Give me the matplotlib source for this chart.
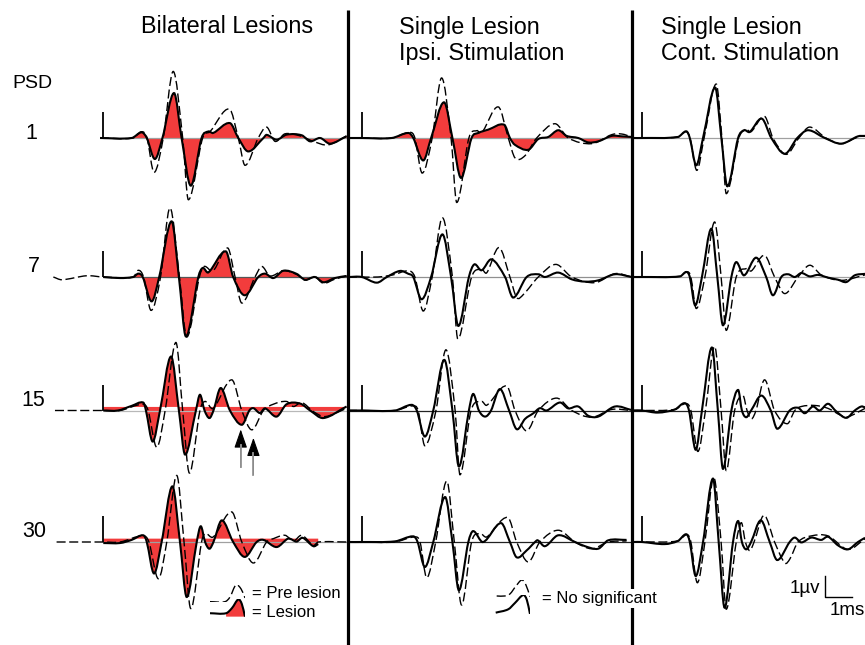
import matplotlib
matplotlib.use("Agg")
import matplotlib.pyplot as plt
import numpy as np
from matplotlib.path import Path
from matplotlib.patches import PathPatch

plt.rcParams["font.family"] = ["Liberation Sans", "DejaVu Sans"]

# ---- waveforms: time in ms after stimulus, amplitude in µV ----
# Bilateral lesions
bil1_pre_t = [-0.12, 1.10, 1.42, 1.62, 1.88, 2.22, 2.59, 2.94, 3.15, 3.68, 3.95, 4.67, 5.00, 5.25, 5.74, 6.05, 6.36, 6.73, 7.29, 7.78, 8.32, 9.01]
bil1_pre_uv = [0, 0, 0.3, 0, -1.64, 0, 3.17, 0, -2.94, 0, 0.3, 1.38, 0, -1.3, 0, 0.52, -0.16, 0.2, 0.1, -0.16, -0.33, 0.1]
bil1_les_t = [-0.12, 1.05, 1.42, 1.61, 1.91, 2.19, 2.62, 2.90, 3.24, 3.64, 3.89, 4.07, 4.69, 5.00, 5.37, 5.93, 6.05, 6.42, 6.79, 7.35, 7.66, 8.03, 8.40, 9.01]
bil1_les_uv = [0, 0, 0.27, 0, -1.0, 0, 2.14, 0, -2.27, 0, 0.31, 0.24, 0.71, 0, -0.64, 0, 0.15, -0.08, 0.16, 0.13, -0.16, 0, -0.27, 0.08]

bil7_pre_t = [-1.85, -1.54, -0.61, 0, 1.11, 1.30, 1.49, 1.77, 2.12, 2.47, 2.82, 3.09, 3.56, 3.73, 4.07, 4.61, 4.88, 5.13, 5.62, 5.87, 6.17, 6.67, 7.16, 7.47, 7.84, 8.15, 8.58, 9.01]
bil7_pre_uv = [0, -0.13, 0.06, 0, 0, 0.32, 0, -1.59, 0, 3.29, 0, -2.86, 0, 0.5, 0.3, 1.38, 0, -1.24, 0, 0.5, 0.05, 0.3, 0.12, -0.15, 0, -0.3, -0.1, 0.05]
bil7_les_t = [0, 0.62, 1.11, 1.30, 1.46, 1.79, 2.07, 2.53, 2.80, 3.06, 3.52, 3.68, 3.89, 4.54, 4.81, 5.24, 5.74, 5.99, 6.30, 6.67, 7.16, 7.47, 7.84, 8.15, 8.58, 9.01]
bil7_les_uv = [0, -0.05, 0, 0.16, 0, -1.16, 0, 2.65, 0, -2.83, 0, 0.43, 0.22, 1.22, 0, -0.87, 0, 0.16, -0.05, 0.3, 0.15, -0.13, 0, -0.25, -0.05, 0.05]

bil15_pre_t = [-1.79, 0, 0.62, 1.48, 1.66, 1.98, 2.29, 2.69, 2.94, 3.19, 3.58, 3.77, 4.07, 4.76, 5.13, 5.50, 5.93, 6.30, 6.79, 7.04, 7.35, 7.78, 8.21, 9.01]
bil15_pre_uv = [0, 0, 0, 0.3, 0, -1.75, 0, 3.24, 0, -2.98, 0, 0.43, 0.1, 1.46, 0, -0.92, 0, 0.3, 0.43, 0.19, 0.38, -0.05, -0.29, 0.1]
bil15_les_t = [0, 0.54, 1.05, 1.48, 1.58, 1.83, 2.10, 2.51, 2.80, 3.03, 3.43, 3.58, 3.75, 3.93, 4.08, 4.35, 4.69, 5.13, 5.41, 5.56, 5.80, 5.99, 6.42, 6.79, 7.29, 7.66, 8.15, 9.01]
bil15_les_uv = [0, 0, 0.22, 0.38, 0, -1.48, 0, 2.57, 0, -2.1, 0, 0.75, 0, -0.36, 0, 1.07, 0, -0.68, 0, 0.11, -0.12, 0.1, -0.29, 0.3, 0.33, 0, -0.36, 0.19]

bil30_pre_t = [-1.73, 0, 0.62, 1.48, 1.69, 2.04, 2.35, 2.72, 2.99, 3.24, 3.64, 3.77, 4.07, 4.76, 5.13, 5.56, 6.05, 6.30, 6.73, 7.04, 7.35, 7.78, 7.96, 9.01]
bil30_pre_uv = [0, 0, 0, 0.3, 0, -1.75, 0, 3.17, 0, -3.17, 0, 0.4, 0.24, 1.43, 0, -1.0, 0, 0.16, 0.32, 0.05, 0.32, -0.16, 0, 0]
bil30_les_t = [0, 0.62, 1.05, 1.48, 1.61, 1.88, 2.16, 2.56, 2.84, 3.09, 3.46, 3.61, 3.77, 3.93, 4.08, 4.39, 4.81, 5.24, 5.68, 5.93, 6.42, 6.85, 7.16, 7.38, 7.78, 7.96]
bil30_les_uv = [-0.05, -0.05, 0.1, 0.32, 0, -1.5, 0, 2.65, 0, -2.62, 0, 0.75, 0, -0.32, 0, 1.03, 0, -0.71, 0, 0.1, -0.24, 0.16, 0.02, 0.2, -0.2, -0.1]

# Single lesion, ipsilateral stimulation
ips1_pre_t = [-0.51, 0, 1.11, 1.79, 1.97, 2.24, 2.61, 2.96, 3.31, 3.52, 3.97, 4.26, 4.44, 5.06, 5.43, 5.68, 6.05, 6.48, 7.16, 7.65, 8.52, 9.26, 9.63, 10.0]
ips1_pre_uv = [0, 0, 0, 0.27, 0, -1.67, 0, 2.86, 0, -3.07, 0, 0.35, 0.24, 1.48, 0, -0.95, -0.84, 0, 0.68, 0, -0.27, 0.16, 0.19, 0.05]
ips1_les_t = [-0.51, 0, 1.11, 1.73, 1.91, 2.28, 2.57, 3.05, 3.36, 3.68, 4.07, 4.32, 4.69, 5.28, 5.49, 5.67, 6.17, 6.54, 6.91, 7.28, 7.59, 8.02, 8.39, 8.76, 9.26, 9.63, 10.0]
ips1_les_uv = [0, 0, 0, 0.24, 0, -1.07, 0, 1.7, 0, -1.9, 0, 0.24, 0.4, 0.63, 0, -0.32, -0.56, -0.05, 0.05, 0.37, 0.1, 0, -0.21, -0.16, 0.1, 0.08, 0.05]

ips7_pre_t = [-0.51, 0, 0.60, 1.16, 1.73, 1.97, 2.28, 2.61, 2.99, 3.36, 3.56, 4.07, 4.44, 4.63, 5.09, 5.49, 5.74, 5.99, 6.54, 7.19, 7.78, 8.64, 9.38, 10.0]
ips7_pre_uv = [0, 0, 0, 0.1, 0.29, 0, -1.62, 0, 2.82, 0, -2.95, 0, 0.37, 0.2, 1.4, 0, -0.98, -0.83, 0, 0.6, 0, -0.27, 0.16, 0]
ips7_les_t = [-0.51, 0, 0.56, 0.93, 1.42, 1.73, 1.91, 2.22, 2.57, 2.99, 3.31, 3.58, 3.97, 4.17, 4.44, 4.81, 5.31, 5.61, 6.11, 6.54, 6.79, 7.28, 7.78, 8.27, 8.76, 9.38, 10.0]
ips7_les_uv = [0, 0, -0.27, 0, 0.29, 0.15, 0, -1.06, 0, 2.03, 0, -2.33, 0, 0.6, 0.32, 0.84, 0, -0.98, 0, 0.13, 0, 0.21, -0.11, -0.22, -0.16, 0.13, 0]

ips15_pre_t = [-0.51, 0, 1.23, 1.91, 2.09, 2.34, 2.75, 3.12, 3.46, 3.64, 4.05, 4.44, 4.63, 5.37, 5.68, 6.11, 6.54, 7.22, 7.78, 8.52, 9.26, 10.0]
ips15_pre_uv = [0, 0, 0, 0.22, 0, -1.68, 0, 2.89, 0, -3.06, 0, 0.43, 0.25, 1.17, 0, -0.97, 0, 0.59, 0, -0.32, 0.05, 0]
ips15_les_t = [-0.51, 0, 1.23, 1.85, 2.04, 2.34, 2.65, 3.06, 3.36, 3.60, 3.97, 4.13, 4.34, 4.57, 4.79, 5.12, 5.46, 5.74, 6.05, 6.36, 6.60, 6.85, 7.34, 7.65, 8.02, 8.39, 8.76, 9.38, 10.0]
ips15_les_uv = [0, 0, 0, 0.27, 0, -1.24, 0, 2.41, 0, -2.67, 0, 0.79, 0, -0.29, 0, 1.02, 0, -0.89, -0.4, -0.13, 0.11, 0, 0.38, 0.1, 0.19, -0.25, -0.29, 0.19, 0.02]

ips30_pre_t = [-0.51, 0, 1.23, 1.97, 2.16, 2.41, 2.74, 3.15, 3.43, 3.70, 4.07, 4.38, 4.63, 5.41, 5.74, 6.17, 6.60, 7.28, 7.90, 8.52, 9.13, 9.81]
ips30_pre_uv = [0, 0, 0, 0.24, 0, -1.7, 0, 2.9, 0, -3.0, 0, 0.4, 0.24, 1.17, 0, -0.95, 0, 0.56, 0, -0.32, 0, 0.05]
ips30_les_t = [-0.51, 0, 1.23, 1.91, 2.07, 2.34, 2.65, 3.09, 3.36, 3.60, 3.95, 4.13, 4.50, 5.16, 5.49, 5.74, 6.11, 6.42, 6.52, 6.79, 7.28, 7.90, 8.27, 8.76, 9.13, 9.81]
ips30_les_uv = [0, 0, 0.03, 0.27, 0, -1.19, 0, 2.14, 0, -2.3, 0, 0.52, 0, 0.9, 0, -0.73, -0.4, 0, 0.08, -0.2, 0.32, 0, -0.2, -0.32, 0.08, 0.1]

# Single lesion, contralateral stimulation
con1_pre_t = [-0.33, 0, 1.33, 1.64, 1.78, 2.03, 2.30, 2.75, 2.96, 3.12, 3.59, 3.85, 4.04, 4.54, 4.85, 5.34, 5.81, 6.21, 6.81, 7.38, 8.0, 8.26]
con1_pre_uv = [0, 0, 0.05, 0.3, 0, -1.54, 0, 2.57, 0, -2.65, 0, 0.4, 0.3, 1.03, 0, -0.78, 0, 0.52, 0, -0.27, 0.05, 0.1]
con1_les_t = [-0.33, 0, 1.33, 1.64, 1.77, 2.01, 2.26, 2.71, 2.94, 3.16, 3.56, 3.78, 3.99, 4.44, 4.79, 5.29, 5.75, 6.15, 6.77, 7.38, 8.0, 8.26]
con1_les_uv = [0, 0, 0.05, 0.32, 0, -1.3, 0, 2.4, 0, -2.3, 0, 0.37, 0.29, 0.92, 0, -0.75, 0, 0.37, 0, -0.27, 0.08, 0.1]

con7_pre_t = [-0.33, 0, 1.41, 1.67, 1.81, 2.01, 2.33, 2.69, 2.93, 3.12, 3.49, 3.86, 4.05, 4.54, 4.91, 5.29, 5.78, 6.21, 6.64, 7.38, 8.26]
con7_pre_uv = [0, 0, 0.03, 0.25, 0, -1.5, 0, 2.62, 0, -2.54, 0, 0.4, 0.29, 1.03, 0, -0.79, 0, 0.56, 0.1, -0.16, 0.1]
con7_les_t = [-0.33, 0, 1.41, 1.64, 1.77, 1.97, 2.22, 2.57, 2.79, 3.0, 3.31, 3.49, 3.78, 4.23, 4.60, 4.85, 5.16, 5.41, 5.66, 5.9, 6.21, 6.52, 6.89, 7.26, 7.57, 7.88, 8.26]
con7_les_uv = [0, 0, 0.03, 0.24, 0, -1.35, 0, 2.3, 0, -2.3, 0, 0.71, 0.08, 0.92, 0, -0.87, 0, 0.13, 0, 0.19, 0.03, 0.1, -0.03, -0.13, -0.24, 0.08, 0.15]

con15_pre_t = [-0.33, 0, 1.22, 1.63, 1.81, 2.07, 2.35, 2.69, 2.93, 3.12, 3.43, 3.74, 3.89, 4.05, 4.22, 4.54, 4.91, 5.38, 5.66, 5.9, 6.40, 6.89, 7.38, 7.63, 8.26]
con15_pre_uv = [0, 0, 0.05, 0.33, 0, -1.95, 0, 3.05, 0, -2.86, 0, 0.71, 0, -0.4, 0, 1.46, 0, -0.63, 0, 0.19, 0.24, 0.1, -0.24, -0.3, 0.1]
con15_les_t = [-0.33, 0, 0.59, 1.22, 1.58, 1.74, 1.99, 2.22, 2.59, 2.81, 3.0, 3.31, 3.56, 3.70, 3.86, 4.04, 4.42, 4.77, 5.01, 5.47, 5.78, 6.03, 6.33, 6.58, 6.89, 7.20, 7.57, 7.88, 8.12, 8.26]
con15_les_uv = [0, 0, -0.1, 0.05, 0.35, 0, -1.87, 0, 3.0, 0, -2.78, 0, 0.98, 0, -0.32, 0, 0.71, 0, -0.87, 0, 0.13, -0.13, 0.19, 0, 0.32, -0.05, -0.35, 0, 0.19, 0.15]

con30_pre_t = [-0.33, 0, 1.33, 1.67, 1.81, 2.05, 2.33, 2.66, 2.93, 3.12, 3.49, 3.68, 3.83, 3.99, 4.15, 4.52, 4.91, 5.29, 5.48, 5.78, 6.27, 6.89, 7.63, 8.26]
con30_pre_uv = [0, 0, 0.05, 0.35, 0, -1.94, 0, 3.06, 0, -3.2, 0, 0.92, 0, -0.41, 0, 1.27, 0, -1.0, -0.8, 0, 0.29, 0.29, -0.35, 0.15]
con30_les_t = [-0.33, 0, 0.84, 1.33, 1.64, 1.77, 1.99, 2.26, 2.63, 2.84, 3.06, 3.37, 3.56, 3.70, 3.86, 4.04, 4.40, 4.73, 5.01, 5.47, 5.66, 5.90, 6.27, 6.64, 6.89, 7.26, 7.63, 8.0, 8.26]
con30_les_uv = [0, 0, -0.1, 0.05, 0.37, 0, -1.62, 0, 3.02, 0, -3.13, 0, 1.0, 0, -0.35, 0, 1.03, 0, -0.86, 0, 0.21, -0.02, 0.21, 0.1, 0.25, -0.16, -0.35, 0, 0.2]

column_titles = ["Bilateral Lesions", "Single Lesion\nIpsi. Stimulation", "Single Lesion\nCont. Stimulation"]
psd_labels = ["1", "7", "15", "30"]

# arrows under the PSD 15 bilateral trace: (time, tip µV, tail µV)
arrow_marks = [(5.09, -0.90, -2.70), (5.56, -1.30, -3.06)]

# legend glyph shapes (unit box)
pre_glyph_x = [0, 0.43, 0.57, 0.74, 0.89, 1.0]
pre_glyph_y = [0.02, 0.02, 0.29, 1.0, 0.76, 0.24]
les_glyph_x = [0, 0.46, 0.63, 0.81, 0.91, 1.0]
les_glyph_y = [0.21, 0.21, 0.5, 0.98, 0.72, 0.02]
ns_pre_glyph_x = [0.02, 0.26, 0.41, 0.59, 0.76, 0.88, 1.0]
ns_pre_glyph_y = [0.06, 0.06, 0.18, 0.65, 1.0, 0.71, 0.02]
ns_les_glyph_x = [0.02, 0.38, 0.57, 0.81, 0.91, 1.0]
ns_les_glyph_y = [0.07, 0.25, 0.58, 1.0, 0.74, 0.0]

# ---- layout ----
W, H = 865, 645
PX_MS, PX_UV = 27.0, 21.0
COL_STIM_X = [103.3, 361.7, 642.0]
COL_T_RANGE = [(-1.97, 9.06), (-0.51, 10.0), (-0.37, 8.26)]
ROW_BASE_Y = [138.0, 277.0, 410.5, 542.0]
V_RANGE = (-3.6, 3.6)
RED = "#f23c3c"
DASH = (0, (6.5, 2.6))

traces = [
    [(bil1_pre_t, bil1_pre_uv, bil1_les_t, bil1_les_uv),
     (bil7_pre_t, bil7_pre_uv, bil7_les_t, bil7_les_uv),
     (bil15_pre_t, bil15_pre_uv, bil15_les_t, bil15_les_uv),
     (bil30_pre_t, bil30_pre_uv, bil30_les_t, bil30_les_uv)],
    [(ips1_pre_t, ips1_pre_uv, ips1_les_t, ips1_les_uv),
     (ips7_pre_t, ips7_pre_uv, ips7_les_t, ips7_les_uv),
     (ips15_pre_t, ips15_pre_uv, ips15_les_t, ips15_les_uv),
     (ips30_pre_t, ips30_pre_uv, ips30_les_t, ips30_les_uv)],
    [(con1_pre_t, con1_pre_uv, con1_les_t, con1_les_uv),
     (con7_pre_t, con7_pre_uv, con7_les_t, con7_les_uv),
     (con15_pre_t, con15_pre_uv, con15_les_t, con15_les_uv),
     (con30_pre_t, con30_pre_uv, con30_les_t, con30_les_uv)],
]
fill_level = [[0, 0, 0.17, 0.16], [0, None, None, None], [None] * 4]
baseline_color = [["#a0a0a0", "#555555", "#b8b8b8", "#a0a0a0"],
                  ["#a0a0a0", "#909090", "#222222", "#222222"],
                  ["#a0a0a0", "#a0a0a0", "#222222", "#a0a0a0"]]
baseline_span = [(0, 9.01), (-0.51, 10.0), (-0.33, 8.26)]


def smooth_path(t, v, level=None):
    """Curve through the read points, drawn as cubic Bezier segments."""
    t = np.asarray(t, float)
    v = np.asarray(v, float)
    m = np.empty(len(t))
    m[0] = (v[1] - v[0]) / (t[1] - t[0])
    m[-1] = (v[-1] - v[-2]) / (t[-1] - t[-2])
    m[1:-1] = (v[2:] - v[:-2]) / (t[2:] - t[:-2])
    verts = [(t[0], v[0])]
    codes = [Path.MOVETO]
    for i in range(len(t) - 1):
        h = t[i + 1] - t[i]
        verts += [(t[i] + h / 3, v[i] + m[i] * h / 3),
                  (t[i + 1] - h / 3, v[i + 1] - m[i + 1] * h / 3),
                  (t[i + 1], v[i + 1])]
        codes += [Path.CURVE4] * 3
    if level is not None:
        verts += [(t[-1], level), (t[0], level), (t[0], v[0])]
        codes += [Path.LINETO, Path.LINETO, Path.CLOSEPOLY]
    return Path(verts, codes)


def box_axes(fig, x0, y0, x1, y1, xlim, ylim):
    ax = fig.add_axes([x0 / W, 1 - y1 / H, (x1 - x0) / W, (y1 - y0) / H])
    ax.set_xlim(*xlim)
    ax.set_ylim(*ylim)
    ax.axis("off")
    return ax


fig = plt.figure(figsize=(W / 100, H / 100), dpi=100)

panel_ax = {}
for c in range(3):
    tmin, tmax = COL_T_RANGE[c]
    for r in range(4):
        x0 = COL_STIM_X[c] + tmin * PX_MS
        x1 = COL_STIM_X[c] + tmax * PX_MS
        y0 = ROW_BASE_Y[r] - V_RANGE[1] * PX_UV
        y1 = ROW_BASE_Y[r] - V_RANGE[0] * PX_UV
        ax = box_axes(fig, x0, y0, x1, y1, (tmin, tmax), V_RANGE)
        panel_ax[(c, r)] = ax
        pre_t, pre_v, les_t, les_v = traces[c][r]

        lvl = fill_level[c][r]
        if lvl is not None:
            ax.add_patch(PathPatch(smooth_path(les_t, les_v, lvl), facecolor=RED,
                                   edgecolor="none", zorder=1))
        ax.hlines(0, *baseline_span[c], color=baseline_color[c][r], lw=0.9, zorder=2)
        ax.add_patch(PathPatch(smooth_path(pre_t, pre_v), fill=False, edgecolor="black",
                               lw=1.0, linestyle=DASH, zorder=3))
        ax.add_patch(PathPatch(smooth_path(les_t, les_v), fill=False, edgecolor="black",
                               lw=1.5, zorder=4))
        # stimulus mark
        ax.vlines(0, 0, 1.22, color="black", lw=1.3, zorder=4)

# arrows on the PSD 15 bilateral trace: black heads, grey stems
ax15 = panel_ax[(0, 2)]
for t_arrow, tip, tail in arrow_marks:
    ax15.annotate("", xy=(t_arrow, tip), xytext=(t_arrow, tail),
                  arrowprops=dict(arrowstyle="-|>,head_length=1.15,head_width=0.4",
                                  color="black", lw=0.8, mutation_scale=10,
                                  shrinkA=0, shrinkB=0), zorder=5)
    ax15.plot([t_arrow, t_arrow], [tail, tip - 0.72], color="#9a9a9a", lw=1.3, zorder=6)

# scale bar, 1 µV by 1 ms
ax_sb = panel_ax[(2, 3)]
ax_sb.plot([6.78, 6.78, 7.78], [-1.6, -2.6, -2.6], color="black", lw=1.0)

# legend glyphs
g = box_axes(fig, 210, 585, 245, 602, (0, 1), (0, 1))
g.add_patch(PathPatch(smooth_path(pre_glyph_x, pre_glyph_y), fill=False, edgecolor="black",
                      lw=1.0, linestyle=DASH))
g = box_axes(fig, 210, 599, 245, 617, (0, 1), (0, 1))
g.add_patch(PathPatch(smooth_path(les_glyph_x[1:], les_glyph_y[1:], 0.02), facecolor=RED,
                      edgecolor="none"))
g.add_patch(PathPatch(smooth_path(les_glyph_x, les_glyph_y), fill=False, edgecolor="black",
                      lw=1.5))
g = box_axes(fig, 496, 580, 530, 597, (0, 1), (0, 1))
g.add_patch(PathPatch(smooth_path(ns_pre_glyph_x, ns_pre_glyph_y), fill=False,
                      edgecolor="black", lw=1.0, linestyle=DASH))
g = box_axes(fig, 495, 595, 530, 614, (0, 1), (0, 1))
g.add_patch(PathPatch(smooth_path(ns_les_glyph_x, ns_les_glyph_y), fill=False,
                      edgecolor="black", lw=1.5))

# overlay for separators and text, in pixel units
ov = box_axes(fig, 0, 0, W, H, (0, W), (H, 0))
ov.vlines([348, 632], 10, H, color="black", lw=2.3)

ov.text(227, 32.7, column_titles[0], ha="center", va="baseline", fontsize=16.8)
ov.text(399, 60, column_titles[1], ha="left", va="baseline", fontsize=16.8, linespacing=1.15)
ov.text(661, 60, column_titles[2], ha="left", va="baseline", fontsize=16.8, linespacing=1.15)

ov.text(12.5, 88.3, "PSD", ha="left", va="baseline", fontsize=14)
for label, x, y in zip(psd_labels, [25, 28.3, 21.7, 22.7], [139.3, 271.7, 405.7, 536.7]):
    ov.text(x, y, label, ha="left", va="baseline", fontsize=15.5)

ov.text(251.7, 598.3, "= Pre lesion", ha="left", va="baseline", fontsize=12)
ov.text(251.7, 616.7, "= Lesion", ha="left", va="baseline", fontsize=12)
ov.text(541.7, 603.3, "= No significant", ha="left", va="baseline", fontsize=12, zorder=5,
        bbox=dict(facecolor="white", edgecolor="none", pad=1.5))
ov.text(820, 593.3, "1\u00b5v", ha="right", va="baseline", fontsize=13.5)
ov.text(830, 615, "1ms", ha="left", va="baseline", fontsize=13.5)

fig.savefig("out.png", dpi=100, facecolor="white")
